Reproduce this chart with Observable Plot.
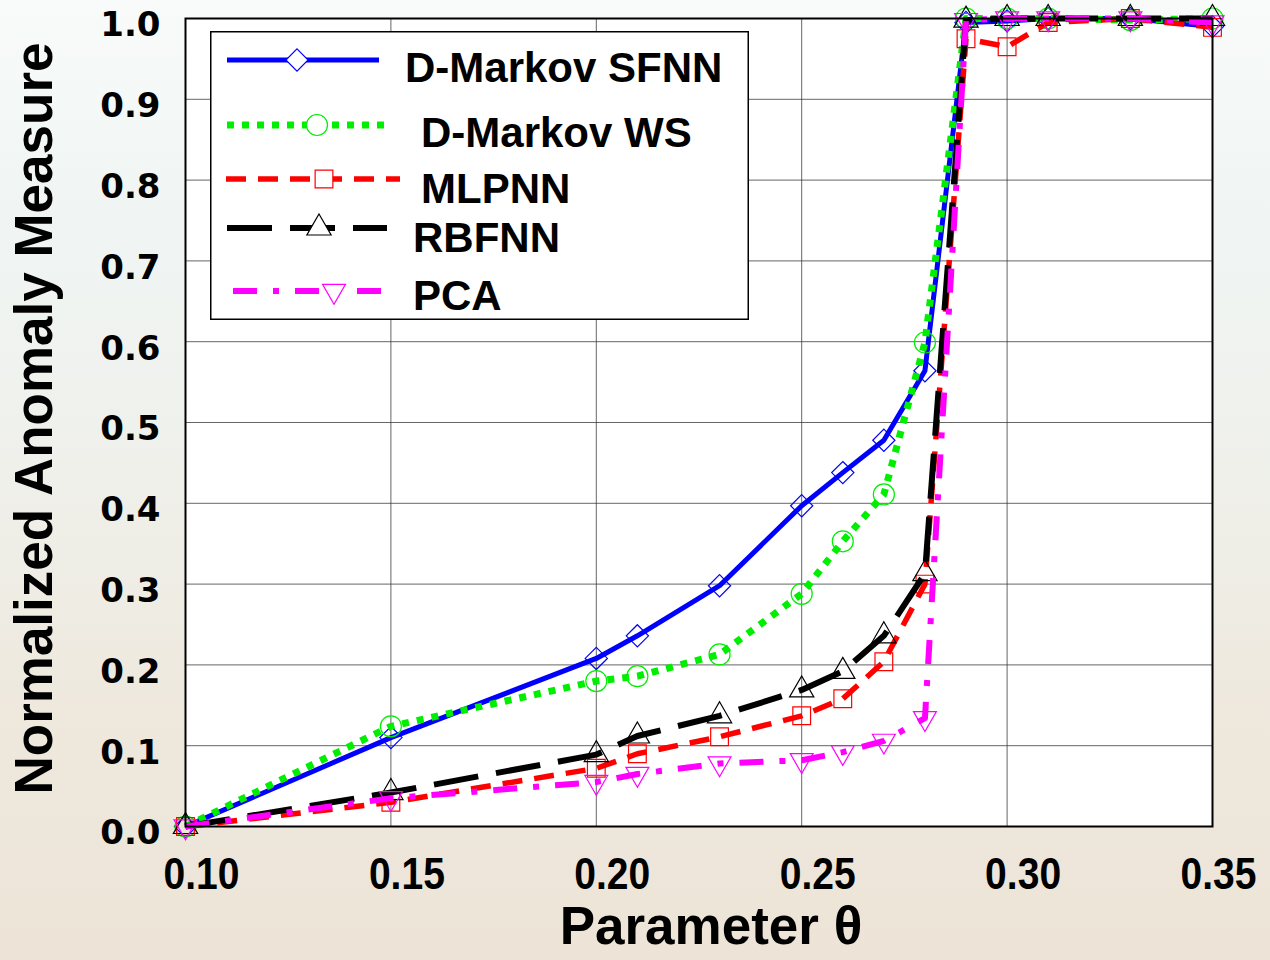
<!DOCTYPE html>
<html><head><meta charset="utf-8">
<script src="https://cdn.jsdelivr.net/npm/d3@7"></script>
<script src="https://cdn.jsdelivr.net/npm/@observablehq/plot@0.6"></script>
<style>
html,body{margin:0;padding:0;width:1270px;height:960px;overflow:hidden;}
body{background:linear-gradient(to bottom,#f8fbfa 0%,#f0f5f4 22%,#eff0ea 50%,#eee8dd 75%,#ede4d7 100%);font-family:"Liberation Sans",Arial,sans-serif;}
#wrap{position:relative;width:1270px;height:960px;}
#wrap svg.plot{position:absolute;left:0;top:0;background:transparent;overflow:visible;}
#legend{position:absolute;left:210px;top:31px;}
</style></head><body><div id="wrap"></div>
<script>
// Data
const theta = [0.10, 0.15, 0.20, 0.21, 0.23, 0.25, 0.26, 0.27, 0.28, 0.29, 0.30, 0.31, 0.33, 0.35];
const sfnn = [0, 0.110, 0.208, 0.236, 0.298, 0.397, 0.438, 0.478, 0.564, 0.995, 0.997, 1.0, 1.0, 0.990];
const ws   = [0, 0.124, 0.180, 0.186, 0.213, 0.288, 0.353, 0.411, 0.599, 1.0, 1.0, 1.0, 0.998, 1.0];
const mlp  = [0, 0.030, 0.072, 0.090, 0.111, 0.137, 0.158, 0.204, 0.300, 0.975, 0.965, 0.995, 1.0, 0.989];
const rbf  = [0, 0.042, 0.089, 0.112, 0.137, 0.169, 0.192, 0.236, 0.313, 0.998, 1.0, 1.0, 1.0, 1.0];
const pca  = [0, 0.035, 0.055, 0.065, 0.078, 0.082, 0.092, 0.106, 0.134, 0.998, 1.0, 1.0, 1.0, 0.995];
const seriesNames = ["D-Markov SFNN", "D-Markov WS", "MLPNN", "RBFNN", "PCA"];
const seriesValues = [sfnn, ws, mlp, rbf, pca];
const xTicks = [0.10, 0.15, 0.20, 0.25, 0.30, 0.35];
const yTicks = [0, 0.1, 0.2, 0.3, 0.4, 0.5, 0.6, 0.7, 0.8, 0.9, 1.0];
const xTitle = "Parameter θ";
const yTitle = "Normalized Anomaly Measure";

// Styles
const styles = [
  {color: "#0000ff", width: 5, dash: null, symbol: "diamond2", r: 10, rotate: 0},
  {color: "#00ee00", width: 7, dash: "7,8", symbol: "circle", r: 10.5, rotate: 0},
  {color: "#ff0000", width: 5.5, dash: "20,12", symbol: "square", r: 10, rotate: 0},
  {color: "#000000", width: 6, dash: "45,18", symbol: "triangle", r: 9, rotate: 0},
  {color: "#ff00ff", width: 6, dash: "24,16,6,16", symbol: "triangle", r: 8.5, rotate: 180}
];

const tables = seriesValues.map((vals, i) => theta.map((t, j) => ({theta: t, value: vals[j], series: seriesNames[i]})));

const seriesMarks = tables.flatMap((rows, i) => {
  const s = styles[i];
  return [
    Plot.line(rows, {x: "theta", y: "value", stroke: s.color, strokeWidth: s.width,
      strokeDasharray: s.dash ?? undefined, strokeLinecap: "butt", strokeLinejoin: "round"}),
    Plot.dot(rows, {x: "theta", y: "value", symbol: s.symbol, r: s.r, stroke: s.color,
      fill: "none", strokeWidth: 1.2, rotate: s.rotate})
  ];
});

const chart = Plot.plot({
  width: 1270, height: 960,
  marginLeft: 185, marginRight: 58, marginTop: 18, marginBottom: 134,
  style: {background: "transparent", overflow: "visible", fontFamily: "'Liberation Sans', Arial, sans-serif"},
  x: {domain: [0.10, 0.35]},
  y: {domain: [0, 1]},
  marks: [
    Plot.frame({fill: "white", stroke: null}),
    Plot.gridX(xTicks, {stroke: "#333", strokeOpacity: 0.75, strokeWidth: 1}),
    Plot.gridY(yTicks, {stroke: "#333", strokeOpacity: 0.75, strokeWidth: 1}),
    ...seriesMarks,
    Plot.frame({stroke: "black", strokeWidth: 2}),
    Plot.axisX({ticks: xTicks, tickFormat: d => d.toFixed(2), tickSize: 0, tickPadding: 31,
      fontSize: 45, fontWeight: "bold", dx: 16, label: null, fill: "black"}),
    Plot.axisY({ticks: yTicks, tickFormat: d => d.toFixed(1), tickSize: 0, tickPadding: 25,
      fontSize: 34, fontWeight: "bold", fontFamily: "'DejaVu Sans', sans-serif", dy: 7, label: null, fill: "black"}),
    Plot.text([xTitle], {frameAnchor: "bottom", textAnchor: "middle", lineAnchor: "middle", dx: 12, dy: 101, fontSize: 53, fontWeight: "bold", fill: "black"}),
    Plot.text([yTitle], {frameAnchor: "left", textAnchor: "middle", lineAnchor: "middle", dx: -150, dy: -4, rotate: -90, fontSize: 53, fontWeight: "bold", fill: "black"})
  ]
});
chart.classList.add("plot");
// condensed look of x tick labels, as in the reference
const xLabels = chart.querySelectorAll('g[aria-label="x-axis tick label"] text');
xLabels.forEach((t, i) => {
  t.setAttribute("textLength", 76);
  t.setAttribute("lengthAdjust", "spacingAndGlyphs");
  if (i === xLabels.length - 1) t.setAttribute("dx", -10);
});
document.getElementById("wrap").appendChild(chart);

// Legend (overlay box)
const legendPos = [
  {ly: 29, x1: 17, x2: 169, mx: 87, tx: 195, ty: 51},
  {ly: 94, x1: 17, x2: 177, mx: 107, tx: 211, ty: 116},
  {ly: 148, x1: 16, x2: 190, mx: 114, tx: 211, ty: 172},
  {ly: 197, x1: 17, x2: 177, mx: 109, tx: 203, ty: 221},
  {ly: 260, x1: 23, x2: 180, mx: 124, tx: 203, ty: 279}
];
const symMap = {diamond2: d3.symbolDiamond2, circle: d3.symbolCircle, square: d3.symbolSquare, triangle: d3.symbolTriangle};
const lw = 539, lh = 289;
const leg = d3.create("svg").attr("id", "legend").attr("width", lw).attr("height", lh);
leg.append("rect").attr("x", 0.75).attr("y", 0.75).attr("width", lw - 1.5).attr("height", lh - 1.5)
  .attr("fill", "white").attr("stroke", "black").attr("stroke-width", 1.5);
seriesNames.forEach((name, i) => {
  const s = styles[i], p = legendPos[i];
  leg.append("line").attr("x1", p.x1).attr("x2", p.x2).attr("y1", p.ly).attr("y2", p.ly)
    .attr("stroke", s.color).attr("stroke-width", s.width).attr("stroke-dasharray", s.dash);
  leg.append("path").attr("d", d3.symbol(symMap[s.symbol], Math.PI * s.r * s.r)())
    .attr("transform", `translate(${p.mx},${p.ly}) rotate(${s.rotate})`)
    .attr("fill", "white").attr("stroke", s.color).attr("stroke-width", 1.2);
  leg.append("text").attr("x", p.tx).attr("y", p.ty).text(name)
    .attr("font-family", "'Liberation Sans', Arial, sans-serif").attr("font-weight", "bold").attr("font-size", 42).attr("fill", "black");
});
document.getElementById("wrap").appendChild(leg.node());
</script>
</body></html>
